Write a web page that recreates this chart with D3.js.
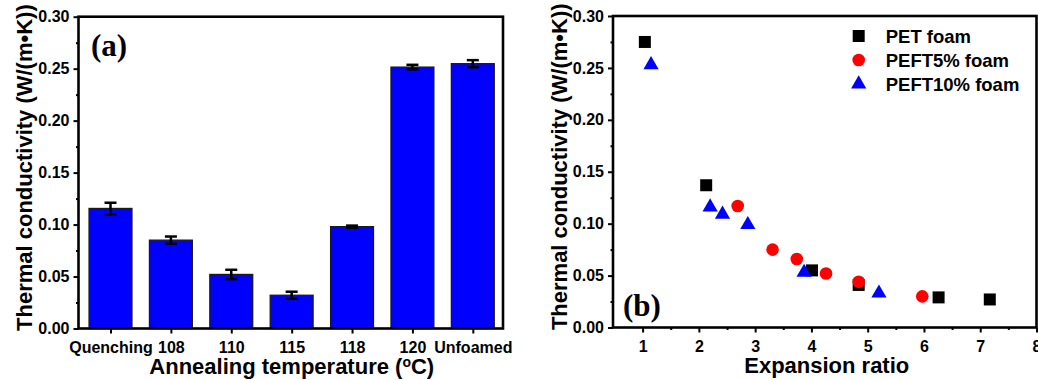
<!DOCTYPE html>
<html>
<head>
<meta charset="utf-8">
<script src="https://cdn.jsdelivr.net/npm/d3@7"></script>
<style>
  body { margin: 0; background: white; }
  svg { display: block; }
</style>
</head>
<body>
<svg id="chart" width="1038" height="380"></svg>
<script>
// Panel (a): thermal conductivity vs annealing temperature
const tempLabels = ["Quenching", "108", "110", "115", "118", "120", "Unfoamed"];
const tempValues = [0.1155, 0.085, 0.052, 0.032, 0.098, 0.2515, 0.2548];
const tempErrors = [0.0055, 0.0035, 0.0045, 0.0034, 0.001, 0.0022, 0.0034];

// Panel (b): thermal conductivity vs expansion ratio
const petRatio = [1.04, 2.13, 4.01, 4.84, 6.26, 7.17];
const petK = [0.275, 0.137, 0.055, 0.041, 0.029, 0.027];
const peft5Ratio = [2.69, 3.31, 3.74, 4.26, 4.84, 5.97];
const peft5K = [0.117, 0.075, 0.066, 0.052, 0.044, 0.030];
const peft10Ratio = [1.15, 2.20, 2.42, 2.87, 3.87, 5.20];
const peft10K = [0.253, 0.116, 0.109, 0.099, 0.053, 0.033];

const yTicks = [0, 0.05, 0.10, 0.15, 0.20, 0.25, 0.30];
const yMinorTicks = [0.025, 0.075, 0.125, 0.175, 0.225, 0.275];
const ratioTicks = [1, 2, 3, 4, 5, 6, 7, 8];
const ratioMinorTicks = [1.5, 2.5, 3.5, 4.5, 5.5, 6.5, 7.5];

const sans = "'Liberation Sans', Arial, sans-serif";
const serif = "'Liberation Serif', 'Times New Roman', serif";

const svg = d3.select("#chart");

// Shared frame / axes helper
function drawAxes(g, x, y, left, right, top, bottom) {
  const yAxis = g.append("g")
    .attr("transform", `translate(${left},0)`)
    .call(d3.axisLeft(y).tickValues(yTicks).tickFormat(d3.format(".2f")).tickSize(5).tickPadding(4));
  g.append("g")
    .attr("transform", `translate(${left},0)`)
    .call(d3.axisLeft(y).tickValues(yMinorTicks).tickFormat("").tickSize(2.5));

  g.selectAll(".domain").remove();
  g.selectAll(".tick line").attr("stroke", "black").attr("stroke-width", 2);
  yAxis.selectAll("text")
    .attr("font-family", sans)
    .attr("font-weight", "bold")
    .attr("font-size", "16px")
    .attr("fill", "black");

  g.append("rect")
    .attr("x", left)
    .attr("y", top)
    .attr("width", right - left)
    .attr("height", bottom - top)
    .attr("fill", "none")
    .attr("stroke", "black")
    .attr("stroke-width", 2.6);

  g.append("text")
    .attr("transform", `translate(${left - 54},${(top + bottom) / 2 - 5}) rotate(-90)`)
    .attr("text-anchor", "middle")
    .attr("dy", "0.35em")
    .attr("font-family", sans)
    .attr("font-weight", "bold")
    .attr("font-size", "22px")
    .text("Thermal conductivity (W/(m•K))");
}

// ---------- Panel (a) ----------
const aL = 78.5, aR = 503, aT = 16.7, aB = 328.5;
const xA = d3.scaleLinear().domain([0.47, 7.5]).range([aL, aR]);
const yA = d3.scaleLinear().domain([0, 0.3]).range([aB, aT]);
const gA = svg.append("g");

const barHalf = 0.355;
gA.selectAll(".bar")
  .data(tempValues)
  .join("rect")
  .attr("class", "bar")
  .attr("x", (d, i) => xA(i + 1 - barHalf))
  .attr("width", (d, i) => xA(i + 1 + barHalf) - xA(i + 1 - barHalf))
  .attr("y", d => yA(d))
  .attr("height", d => yA(0) - yA(d))
  .attr("fill", "#0000ff")
  .attr("stroke", "#1a1a1a")
  .attr("stroke-width", 1.3);

// error bars
const errG = gA.selectAll(".err")
  .data(tempValues)
  .join("g")
  .attr("class", "err")
  .attr("stroke", "black")
  .attr("stroke-width", 2.5);
errG.append("line")
  .attr("x1", (d, i) => xA(i + 1)).attr("x2", (d, i) => xA(i + 1))
  .attr("y1", (d, i) => yA(d + tempErrors[i])).attr("y2", (d, i) => yA(d - tempErrors[i]));
errG.append("line")
  .attr("x1", (d, i) => xA(i + 1) - 6).attr("x2", (d, i) => xA(i + 1) + 6)
  .attr("y1", (d, i) => yA(d + tempErrors[i])).attr("y2", (d, i) => yA(d + tempErrors[i]));
errG.append("line")
  .attr("x1", (d, i) => xA(i + 1) - 6).attr("x2", (d, i) => xA(i + 1) + 6)
  .attr("y1", (d, i) => yA(d - tempErrors[i])).attr("y2", (d, i) => yA(d - tempErrors[i]));

const xAxisA = gA.append("g")
  .attr("transform", `translate(0,${aB})`)
  .call(d3.axisBottom(xA).tickValues(d3.range(1, 8)).tickFormat((d, i) => tempLabels[i]).tickSize(5).tickPadding(8));
xAxisA.selectAll("text")
  .attr("font-family", sans)
  .attr("font-weight", "bold")
  .attr("font-size", "16px")
  .attr("fill", "black");

drawAxes(gA, xA, yA, aL, aR, aT, aB);

const xTitleA = gA.append("text")
  .attr("x", (aL + aR) / 2 + 1)
  .attr("y", 374)
  .attr("text-anchor", "middle")
  .attr("font-family", sans)
  .attr("font-weight", "bold")
  .attr("font-size", "22px");
xTitleA.append("tspan").text("Annealing temperature (");
xTitleA.append("tspan").attr("font-size", "14px").attr("dy", "-7").text("o");
xTitleA.append("tspan").attr("dy", "7").text("C)");

gA.append("text")
  .attr("x", 91)
  .attr("y", 56)
  .attr("font-family", serif)
  .attr("font-weight", "bold")
  .attr("font-size", "31px")
  .text("(a)");

// ---------- Panel (b) ----------
const bL = 613, bR = 1036.5, bT = 16, bB = 327.5;
const xB = d3.scaleLinear().domain([0.474, 8]).range([bL, bR]);
const yB = d3.scaleLinear().domain([0, 0.3]).range([bB, bT]);
const gB = svg.append("g");

const xAxisB = gB.append("g")
  .attr("transform", `translate(0,${bB})`)
  .call(d3.axisBottom(xB).tickValues(ratioTicks).tickFormat(d3.format("d")).tickSize(5).tickPadding(8));
gB.append("g")
  .attr("transform", `translate(0,${bB})`)
  .call(d3.axisBottom(xB).tickValues(ratioMinorTicks).tickFormat("").tickSize(2.5));
xAxisB.selectAll("text")
  .attr("font-family", sans)
  .attr("font-weight", "bold")
  .attr("font-size", "16px")
  .attr("fill", "black");

drawAxes(gB, xB, yB, bL, bR, bT, bB);

const series = [
  { name: "PET foam", xs: petRatio, ys: petK, type: d3.symbolSquare, size: 144, color: "black" },
  { name: "PEFT5% foam", xs: peft5Ratio, ys: peft5K, type: d3.symbolCircle, size: 125, color: "#ff0000" },
  { name: "PEFT10% foam", xs: peft10Ratio, ys: peft10K, type: d3.symbolTriangle, size: 100, color: "#0000ff" }
];

series.forEach(s => {
  gB.selectAll(null)
    .data(s.xs)
    .join("path")
    .attr("transform", (d, i) => `translate(${xB(d)},${yB(s.ys[i])})`)
    .attr("d", d3.symbol().type(s.type).size(s.size))
    .attr("fill", s.color);
});

// legend
const legend = gB.append("g").attr("transform", "translate(858.7,36)");
series.forEach((s, i) => {
  legend.append("path")
    .attr("transform", `translate(0,${i * 24})`)
    .attr("d", d3.symbol().type(s.type).size(s.size))
    .attr("fill", s.color);
  legend.append("text")
    .attr("x", 27)
    .attr("y", i * 24)
    .attr("dy", "0.36em")
    .attr("font-family", sans)
    .attr("font-weight", "bold")
    .attr("font-size", "18.5px")
    .text(s.name);
});

gB.append("text")
  .attr("x", (bL + bR) / 2 + 2)
  .attr("y", 373)
  .attr("text-anchor", "middle")
  .attr("font-family", sans)
  .attr("font-weight", "bold")
  .attr("font-size", "22px")
  .text("Expansion ratio");

gB.append("text")
  .attr("x", 623)
  .attr("y", 316)
  .attr("font-family", serif)
  .attr("font-weight", "bold")
  .attr("font-size", "31px")
  .text("(b)");
</script>
</body>
</html>
